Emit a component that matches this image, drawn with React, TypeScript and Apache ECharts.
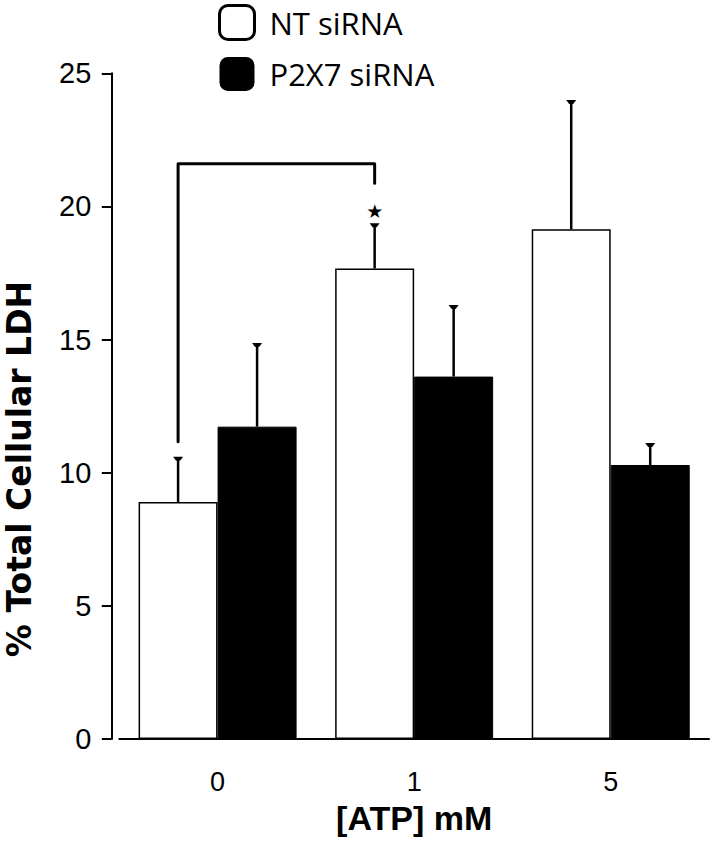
import React, { useEffect, useRef } from "react";
import * as echarts from "echarts";

const categories = ["0", "1", "5"];
const seriesNames = ["NT siRNA", "P2X7 siRNA"];
const ntValues = [8.9, 17.67, 19.14];
const ntErrors = [1.66, 1.66, 4.82];
const p2x7Values = [11.73, 13.61, 10.29];
const p2x7Errors = [3.1, 2.65, 0.79];
// significance bracket: [fromCategory, toCategory, top, leftEnd, rightEnd, starValue]
const bracket = [0, 1, 21.6, 11.16, 20.87, 19.84];
const yTicks = { min: 0, max: 25, interval: 5 };

const BAR_W = 79;
const HALF = BAR_W / 2;

function errorRender(offset: number) {
  return (params: any, api: any) => {
    const cat = api.value(0);
    const v = api.value(1);
    const e = api.value(2);
    const base = api.coord([cat, v]);
    const top = api.coord([cat, v + e]);
    const x = base[0] + offset;
    return {
      type: "group",
      children: [
        {
          type: "line",
          shape: { x1: x, y1: base[1], x2: x, y2: top[1] },
          style: { stroke: "#000", lineWidth: 2.5 },
        },
        {
          type: "polygon",
          shape: {
            points: [
              [x - 5, top[1] - 1],
              [x + 5, top[1] - 1],
              [x + 2, top[1] + 3],
              [x - 2, top[1] + 3],
            ],
          },
          style: { fill: "#000" },
        },
      ],
    };
  };
}

export default function App() {
  const ref = useRef<HTMLDivElement>(null);
  useEffect(() => {
    const chart = echarts.init(ref.current as HTMLDivElement, null, { renderer: "svg" });
    chart.setOption({
      animation: false,
      backgroundColor: "#fff",
      grid: { left: 119.3, right: 4, top: 73.3, bottom: 106 },
      legend: {
        orient: "vertical",
        left: 218,
        top: 4,
        padding: 0,
        itemWidth: 35,
        itemHeight: 34,
        itemGap: 16,
        textStyle: {
          fontFamily: "Open Sans",
          fontSize: 31,
          color: "#000",
          padding: [0, 0, 0, 10],
        },
        data: [
          {
            name: seriesNames[0],
            icon: "roundRect",
            itemStyle: { color: "#fff", borderColor: "#000", borderWidth: 3 },
          },
          {
            name: seriesNames[1],
            icon: "roundRect",
            itemStyle: { color: "#000", borderColor: "#000", borderWidth: 0 },
          },
        ],
      },
      xAxis: {
        type: "category",
        data: categories,
        offset: 12,
        name: "[ATP] mM",
        nameLocation: "middle",
        nameGap: 50,
        nameTextStyle: {
          fontFamily: "Liberation Sans",
          fontWeight: "bold",
          fontSize: 34,
          color: "#000",
        },
        axisLine: { lineStyle: { color: "#000", width: 2 } },
        axisTick: { length: 9, lineStyle: { color: "#000", width: 2 } },
        axisLabel: {
          fontFamily: "Liberation Sans",
          fontSize: 27,
          color: "#000",
          margin: 17,
        },
      },
      yAxis: {
        type: "value",
        min: yTicks.min,
        max: yTicks.max,
        interval: yTicks.interval,
        offset: 8,
        splitLine: { show: false },
        axisLine: { show: true, lineStyle: { color: "#000", width: 2 } },
        axisTick: { show: true, length: 9.5, lineStyle: { color: "#000", width: 2 } },
        axisLabel: {
          fontFamily: "Liberation Sans",
          fontSize: 29,
          color: "#000",
          margin: 20,
        },
      },
      graphic: [
        {
          type: "text",
          x: 19,
          y: 469,
          rotation: Math.PI / 2,
          style: {
            text: "% Total Cellular LDH",
            fontFamily: "DejaVu Sans",
            fontWeight: "bold",
            fontSize: 33,
            fill: "#000",
            align: "center",
            verticalAlign: "middle",
            textAlign: "center",
            textVerticalAlign: "middle",
          },
        },
      ],
      series: [
        {
          name: seriesNames[0],
          type: "bar",
          data: ntValues,
          barWidth: BAR_W,
          barGap: "0%",
          itemStyle: { color: "#fff", borderColor: "#000", borderWidth: 1.5 },
          z: 2,
        },
        {
          name: seriesNames[1],
          type: "bar",
          data: p2x7Values,
          barWidth: BAR_W,
          barGap: "0%",
          itemStyle: { color: "#000", borderColor: "#000", borderWidth: 1 },
          z: 2,
        },
        {
          type: "custom",
          name: "nt-err",
          data: ntValues.map((v, i) => [i, v, ntErrors[i]]),
          renderItem: errorRender(-HALF),
          encode: { x: 0, y: 1 },
          z: 3,
          silent: true,
        },
        {
          type: "custom",
          name: "p2x7-err",
          data: p2x7Values.map((v, i) => [i, v, p2x7Errors[i]]),
          renderItem: errorRender(HALF),
          encode: { x: 0, y: 1 },
          z: 3,
          silent: true,
        },
        {
          type: "custom",
          name: "bracket",
          data: [bracket],
          encode: { x: 0, y: 2 },
          silent: true,
          z: 4,
          renderItem: (params: any, api: any) => {
            const c0 = api.value(0);
            const c1 = api.value(1);
            const topV = api.value(2);
            const lEnd = api.value(3);
            const rEnd = api.value(4);
            const starV = api.value(5);
            const pTopL = api.coord([c0, topV]);
            const pTopR = api.coord([c1, topV]);
            const pL = api.coord([c0, lEnd]);
            const pR = api.coord([c1, rEnd]);
            const pS = api.coord([c1, starV]);
            return {
              type: "group",
              children: [
                {
                  type: "polyline",
                  shape: {
                    points: [
                      [pL[0] - HALF, pL[1]],
                      [pTopL[0] - HALF, pTopL[1]],
                      [pTopR[0] - HALF, pTopR[1]],
                      [pR[0] - HALF, pR[1]],
                    ],
                  },
                  style: { stroke: "#000", lineWidth: 3, fill: "none", lineJoin: "round", lineCap: "round" },
                },
                {
                  type: "text",
                  style: {
                    text: "★",
                    x: pS[0] - HALF,
                    y: pS[1],
                    fontFamily: "DejaVu Sans",
                    fontSize: 19,
                    fill: "#000",
                    align: "center",
                    verticalAlign: "middle",
                  },
                },
              ],
            };
          },
        },
      ],
    });
    return () => chart.dispose();
  }, []);
  return (
    <div
      ref={ref}
      style={{ position: "fixed", left: 0, top: 0, width: 713, height: 845 }}
    />
  );
}
